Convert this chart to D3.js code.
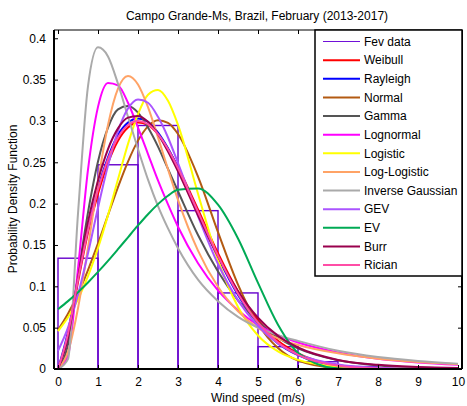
<!DOCTYPE html>
<html>
<head>
<meta charset="utf-8">
<script src="https://cdn.jsdelivr.net/npm/d3@7"></script>
<style>
  body { margin: 0; background: #fff; }
  svg { display: block; }
  text { font-family: "Liberation Sans", Arial, sans-serif; fill: #000; }
</style>
</head>
<body>
<svg id="chart" width="467" height="406"></svg>
<script>
// Histogram of observed wind speeds (bin width 1 m/s, starting at 0)
const binEdges = [0, 1, 2, 3, 4, 5, 6, 7, 8, 9, 10];
const fevData = [0.134, 0.247, 0.2945, 0.1915, 0.092, 0.027, 0.0088, 0.003, 0.001, 0.001];

// Wind speeds at which the fitted densities are tabulated
const speeds = [0, 0.25, 0.5, 0.75, 1, 1.25, 1.5, 1.75, 2, 2.25, 2.5, 2.75, 3, 3.5, 4, 4.5, 5, 5.5, 6, 7, 8, 9, 10];

// Fitted probability densities
const weibull     = [0, 0.040, 0.105, 0.165, 0.212, 0.249, 0.276, 0.292, 0.298, 0.295, 0.284, 0.266, 0.244, 0.193, 0.140, 0.094, 0.059, 0.034, 0.019, 0.0046, 0.0009, 0.0001, 0];
const rayleigh    = [0, 0.045, 0.110, 0.170, 0.219, 0.256, 0.283, 0.298, 0.303, 0.299, 0.286, 0.267, 0.2435, 0.189, 0.135, 0.0895, 0.055, 0.031, 0.0167, 0.0038, 0.0007, 0.0001, 0];
const normal      = [0.0472, 0.0667, 0.091, 0.1197, 0.1519, 0.1861, 0.220, 0.2509, 0.2762, 0.2935, 0.3009, 0.2977, 0.2842, 0.2328, 0.1655, 0.102, 0.0545, 0.0253, 0.0101, 0.0011, 0.0001, 0, 0];
const gamma       = [0, 0.030, 0.113, 0.1895, 0.251, 0.292, 0.314, 0.318, 0.310, 0.292, 0.269, 0.242, 0.215, 0.162, 0.118, 0.083, 0.057, 0.038, 0.025, 0.0106, 0.0043, 0.0017, 0.0006];
const lognormal   = [0, 0.0165, 0.1215, 0.241, 0.317, 0.346, 0.343, 0.322, 0.292, 0.260, 0.228, 0.199, 0.172, 0.128, 0.095, 0.071, 0.053, 0.041, 0.032, 0.020, 0.0125, 0.008, 0.0052];
const logistic    = [0.0459, 0.0626, 0.0844, 0.1122, 0.1463, 0.1861, 0.2295, 0.2723, 0.3084, 0.3318, 0.3374, 0.3243, 0.2952, 0.212, 0.1319, 0.075, 0.0405, 0.0212, 0.011, 0.0029, 0.0008, 0.0002, 0.0001];
const logLogistic = [0, 0.0208, 0.0735, 0.1471, 0.2268, 0.2952, 0.3392, 0.3544, 0.3441, 0.3166, 0.2801, 0.2415, 0.2046, 0.1432, 0.0994, 0.0697, 0.0496, 0.037, 0.029, 0.019, 0.0125, 0.0085, 0.0058];
const invGaussian = [0, 0.012, 0.188, 0.342, 0.389, 0.378, 0.345, 0.305, 0.266, 0.229, 0.197, 0.170, 0.146, 0.108, 0.082, 0.063, 0.050, 0.041, 0.034, 0.022, 0.0145, 0.0098, 0.0065];
const gev         = [0.022, 0.050, 0.090, 0.140, 0.195, 0.246, 0.288, 0.315, 0.326, 0.322, 0.305, 0.280, 0.249, 0.185, 0.127, 0.083, 0.052, 0.031, 0.018, 0.0055, 0.0015, 0.0003, 0.0001];
const ev          = [0.0723, 0.0821, 0.0929, 0.1047, 0.1174, 0.1308, 0.1449, 0.1593, 0.1736, 0.1872, 0.1994, 0.2096, 0.2167, 0.2184, 0.1988, 0.1579, 0.1042, 0.0536, 0.0197, 0.0006, 0, 0, 0];
const burr        = [0, 0.038, 0.110, 0.178, 0.228, 0.266, 0.291, 0.304, 0.306, 0.299, 0.284, 0.263, 0.239, 0.186, 0.136, 0.094, 0.062, 0.040, 0.026, 0.011, 0.005, 0.0025, 0.0013];
const rician      = [0, 0.043, 0.108, 0.168, 0.217, 0.254, 0.280, 0.295, 0.300, 0.296, 0.284, 0.266, 0.243, 0.190, 0.137, 0.091, 0.056, 0.032, 0.017, 0.0040, 0.0007, 0.0001, 0];

const xTicks = [0, 1, 2, 3, 4, 5, 6, 7, 8, 9, 10];
const yTicks = [0, 0.05, 0.1, 0.15, 0.2, 0.25, 0.3, 0.35, 0.4];
const yTickLabels = ["0", "0.05", "0.1", "0.15", "0.2", "0.25", "0.3", "0.35", "0.4"];

const histColor = "#6600cc";
const fits = [
  { name: "Weibull",          color: "#ff0000", values: weibull },
  { name: "Rayleigh",         color: "#0000ff", values: rayleigh },
  { name: "Normal",           color: "#b35a12", values: normal },
  { name: "Gamma",            color: "#555555", values: gamma },
  { name: "Lognormal",        color: "#ff00ff", values: lognormal },
  { name: "Logistic",         color: "#ffff00", values: logistic },
  { name: "Log-Logistic",     color: "#ffa366", values: logLogistic },
  { name: "Inverse Gaussian", color: "#aaaaaa", values: invGaussian },
  { name: "GEV",              color: "#aa55ff", values: gev },
  { name: "EV",               color: "#00aa55", values: ev },
  { name: "Burr",             color: "#99004d", values: burr },
  { name: "Rician",           color: "#ff4da6", values: rician }
];

const fontSize = 12;
const svg = d3.select("#chart");
const plot = { left: 54, right: 462, top: 30, bottom: 369 };

const x = d3.scaleLinear().domain([-0.1, 10.1]).range([plot.left, plot.right]);
const y = d3.scaleLinear().domain([0, 0.41]).range([plot.bottom, plot.top]);

svg.append("defs").append("clipPath").attr("id", "plotClip")
  .append("rect")
  .attr("x", plot.left).attr("y", plot.top)
  .attr("width", plot.right - plot.left).attr("height", plot.bottom - plot.top);

const body = svg.append("g").attr("clip-path", "url(#plotClip)");

// Histogram outlines
const bins = fevData.map((v, i) => ({ x0: binEdges[i], x1: binEdges[i + 1], v }));
body.append("g").selectAll("rect").data(bins).join("rect")
  .attr("x", d => x(d.x0))
  .attr("y", d => y(d.v))
  .attr("width", d => x(d.x1) - x(d.x0))
  .attr("height", d => y(0) - y(d.v))
  .attr("fill", "none")
  .attr("stroke", histColor)
  .attr("stroke-width", 1.4);

// Fitted density curves
const line = d3.line()
  .x((d, i) => x(speeds[i]))
  .y(d => y(d))
  .curve(d3.curveMonotoneX);

body.append("g").selectAll("path").data(fits).join("path")
  .attr("d", d => line(d.values))
  .attr("fill", "none")
  .attr("stroke", d => d.color)
  .attr("stroke-width", 2)
  .attr("stroke-linejoin", "round");

// Axes with inward ticks on all four sides
const axG = svg.append("g");
const tickLen = 4;

axG.append("g").attr("transform", `translate(0,${plot.bottom})`)
  .call(d3.axisBottom(x).tickValues(xTicks).tickSize(-tickLen).tickPadding(8).tickFormat(d3.format("d")))
  .call(g => g.select(".domain").remove());
axG.append("g").attr("transform", `translate(0,${plot.top})`)
  .call(d3.axisTop(x).tickValues(xTicks).tickSize(-tickLen).tickFormat(""))
  .call(g => g.select(".domain").remove());
axG.append("g").attr("transform", `translate(${plot.left},0)`)
  .call(d3.axisLeft(y).tickValues(yTicks).tickSize(-tickLen).tickPadding(8).tickFormat((d, i) => yTickLabels[i]))
  .call(g => g.select(".domain").remove());
axG.append("g").attr("transform", `translate(${plot.right},0)`)
  .call(d3.axisRight(y).tickValues(yTicks).tickSize(-tickLen).tickFormat(""))
  .call(g => g.select(".domain").remove());

axG.selectAll(".tick text").attr("font-family", "Liberation Sans, Arial, sans-serif").attr("font-size", fontSize).attr("fill", "#000");
axG.selectAll(".tick line").attr("stroke", "#000");

// Frame
svg.append("line").attr("x1", plot.left).attr("x2", plot.right).attr("y1", plot.top).attr("y2", plot.top)
  .attr("stroke", "#000").attr("stroke-width", 1.2);
svg.append("line").attr("x1", plot.left).attr("x2", plot.right).attr("y1", plot.bottom).attr("y2", plot.bottom)
  .attr("stroke", "#000").attr("stroke-width", 2);
svg.append("line").attr("x1", plot.left).attr("x2", plot.left).attr("y1", plot.top).attr("y2", plot.bottom)
  .attr("stroke", "#000").attr("stroke-width", 2);
svg.append("line").attr("x1", plot.right).attr("x2", plot.right).attr("y1", plot.top).attr("y2", plot.bottom)
  .attr("stroke", "#000").attr("stroke-width", 2);

// Titles
svg.append("text").attr("x", 257).attr("y", 19.5).attr("text-anchor", "middle").attr("font-size", fontSize)
  .text("Campo Grande-Ms, Brazil, February (2013-2017)");
svg.append("text").attr("x", 258).attr("y", 402).attr("text-anchor", "middle").attr("font-size", fontSize)
  .text("Wind speed (m/s)");
svg.append("text").attr("transform", "translate(17,199) rotate(-90)").attr("text-anchor", "middle").attr("font-size", fontSize)
  .text("Probability Density Function");

// Legend
const legendItems = [{ name: "Fev data", color: "#7010d8", width: 1.2 }]
  .concat(fits.map(f => ({ name: f.name, color: f.color, width: 2 })));
const leg = svg.append("g");
leg.append("rect").attr("x", 315).attr("y", 30).attr("width", 147).attr("height", 246)
  .attr("fill", "#fff").attr("stroke", "#000").attr("stroke-width", 1.5);
const rowY = d3.scaleLinear().domain([0, legendItems.length - 1]).range([41.5, 265]);
const rows = leg.selectAll("g.row").data(legendItems).join("g").attr("class", "row")
  .attr("transform", (d, i) => `translate(0,${rowY(i)})`);
rows.append("line").attr("x1", 323).attr("x2", 360).attr("y1", 0).attr("y2", 0)
  .attr("stroke", d => d.color).attr("stroke-width", d => d.width);
rows.append("text").attr("x", 364).attr("y", 0).attr("dy", "0.36em").attr("font-size", fontSize)
  .text(d => d.name);
</script>
</body>
</html>
